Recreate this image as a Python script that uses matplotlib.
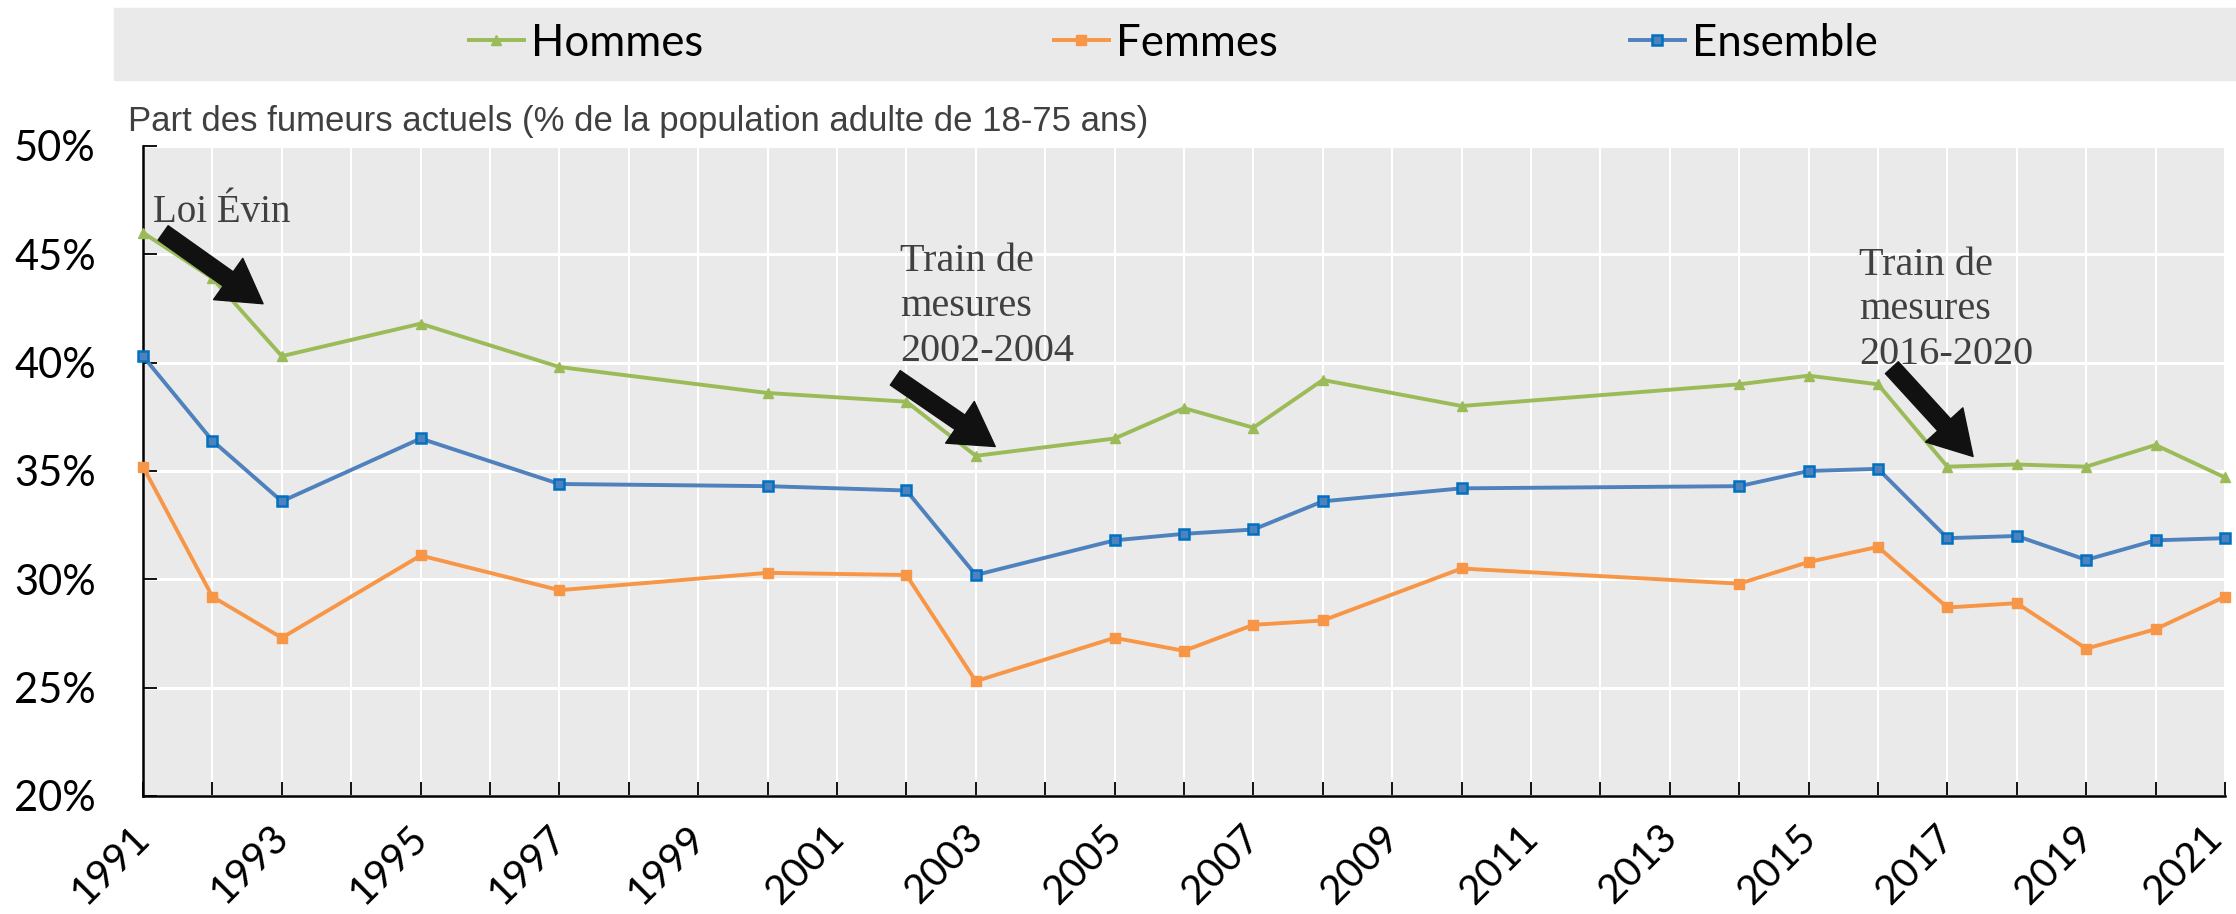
import matplotlib
matplotlib.use("Agg")
import matplotlib.pyplot as plt
import matplotlib.transforms as mtransforms
from matplotlib.patches import Rectangle
from matplotlib.ticker import FixedLocator, FuncFormatter

years = [1991, 1992, 1993, 1995, 1997, 2000, 2002, 2003, 2005, 2006, 2007,
         2008, 2010, 2014, 2015, 2016, 2017, 2018, 2019, 2020, 2021]
hommes = [46.0, 43.9, 40.3, 41.8, 39.8, 38.6, 38.2, 35.7, 36.5, 37.9, 37.0,
          39.2, 38.0, 39.0, 39.4, 39.0, 35.2, 35.3, 35.2, 36.2, 34.7]
femmes = [35.2, 29.2, 27.3, 31.1, 29.5, 30.3, 30.2, 25.3, 27.3, 26.7, 27.9,
          28.1, 30.5, 29.8, 30.8, 31.5, 28.7, 28.9, 26.8, 27.7, 29.2]
ensemble = [40.3, 36.4, 33.6, 36.5, 34.4, 34.3, 34.1, 30.2, 31.8, 32.1, 32.3,
            33.6, 34.2, 34.3, 35.0, 35.1, 31.9, 32.0, 30.9, 31.8, 31.9]

labels = ["Hommes", "Femmes", "Ensemble"]
ylabel = "Part des fumeurs actuels (% de la population adulte de 18-75 ans)"

W, H = 2236, 914
fig = plt.figure(figsize=(W / 100, H / 100), dpi=100)
fig.patch.set_facecolor("white")

# grey band behind the legend
fig.patches.append(Rectangle((114 / W, 1 - 80 / H), (W - 114) / W, 72 / H,
                             transform=fig.transFigure, color="#EAEAEA", zorder=0))

ax = fig.add_axes([143 / W, 1 - 796 / H, (2225 - 143) / W, (796 - 146) / H])
ax.set_facecolor("#EAEAEA")

green, orange, blue = "#9BBB59", "#F79646", "#4F81BD"
l1, = ax.plot(years, hommes, color=green, lw=2.8, marker="^", ms=7,
              mfc=green, mec=green, clip_on=False, zorder=3)
l2, = ax.plot(years, femmes, color=orange, lw=2.8, marker="s", ms=7,
              mfc=orange, mec=orange, clip_on=False, zorder=3)
l3, = ax.plot(years, ensemble, color=blue, lw=2.8, marker="s", ms=7.5,
              mfc=blue, mec="#0070C0", mew=1.8, clip_on=False, zorder=3)

ax.set_xlim(1991, 2021)
ax.set_ylim(20, 50)
ax.xaxis.set_major_locator(FixedLocator(range(1991, 2022, 2)))
ax.xaxis.set_minor_locator(FixedLocator(range(1992, 2022, 2)))
ax.yaxis.set_major_locator(FixedLocator(range(20, 51, 5)))
ax.yaxis.set_major_formatter(FuncFormatter(lambda v, p: f"{v:.0f}%"))

ax.grid(True, which="major", axis="y", color="white", lw=2.2)
ax.grid(True, which="both", axis="x", color="white", lw=1.5)
ax.set_axisbelow(True)

for s in ["top", "right"]:
    ax.spines[s].set_visible(False)
for s in ["left", "bottom"]:
    ax.spines[s].set_color("black")
    ax.spines[s].set_linewidth(1.8)

ax.tick_params(axis="both", which="both", direction="in", length=10,
               width=1.3, color="black")
ax.tick_params(axis="y", pad=34, labelsize=30, labelcolor="black")
ax.tick_params(axis="x", pad=16, labelsize=29, labelcolor="black")
for t in ax.get_yticklabels() + ax.get_xticklabels():
    t.set_family(["Lato", "DejaVu Sans"])

xlabs = ax.get_xticklabels()
for i, t in enumerate(xlabs):
    dx = -12 if i < len(xlabs) - 1 else -22   # last one pulled in to fit, as Excel does
    t.set_rotation(45)
    t.set_ha("right")
    t.set_rotation_mode("anchor")
    t.set_transform(t.get_transform() +
                    mtransforms.ScaledTranslation(dx / 100, 0, fig.dpi_scale_trans))

fig.text(128 / W, 1 - 131 / H, ylabel, fontsize=25, color="#404040",
         family=["Liberation Sans", "DejaVu Sans"], va="baseline", ha="left")

# annotations
serif = ["Liberation Serif", "DejaVu Serif"]
arrow = dict(arrowstyle="simple,head_length=1.1,head_width=1.3,tail_width=0.45",
             color="#111111", mutation_scale=28, shrinkA=0, shrinkB=0)
ax.text(1991.15, 46.5, "Loi Évin", fontsize=28, color="#404040",
        family=serif, va="baseline", ha="left")
ax.annotate("", xy=(1992.73, 42.72), xytext=(1991.29, 45.99), arrowprops=arrow)

ax.text(2001.91, 45.5, "Train de\nmesures\n2002-2004", fontsize=29,
        color="#404040", family=serif, va="top", ha="left", linespacing=1.27)
ax.annotate("", xy=(2003.28, 36.13), xytext=(2001.84, 39.3), arrowprops=arrow)

ax.text(2015.73, 45.35, "Train de\nmesures\n2016-2020", fontsize=29,
        color="#404040", family=serif, va="top", ha="left", linespacing=1.27)
ax.annotate("", xy=(2017.37, 35.67), xytext=(2016.2, 39.77), arrowprops=arrow)

# legend: one entry per box so each sits where the original puts it
for line, lab, x0 in zip([l1, l2, l3], labels, [469, 1054, 1630]):
    fig.legend([line], [lab], loc="center left",
               bbox_to_anchor=(x0 / W, 1 - 43 / H), frameon=False,
               prop={"family": ["Lato", "DejaVu Sans"], "size": 31.5},
               handlelength=1.25, handletextpad=0.16, borderpad=0,
               borderaxespad=0)

fig.savefig("out.png", dpi=100)
